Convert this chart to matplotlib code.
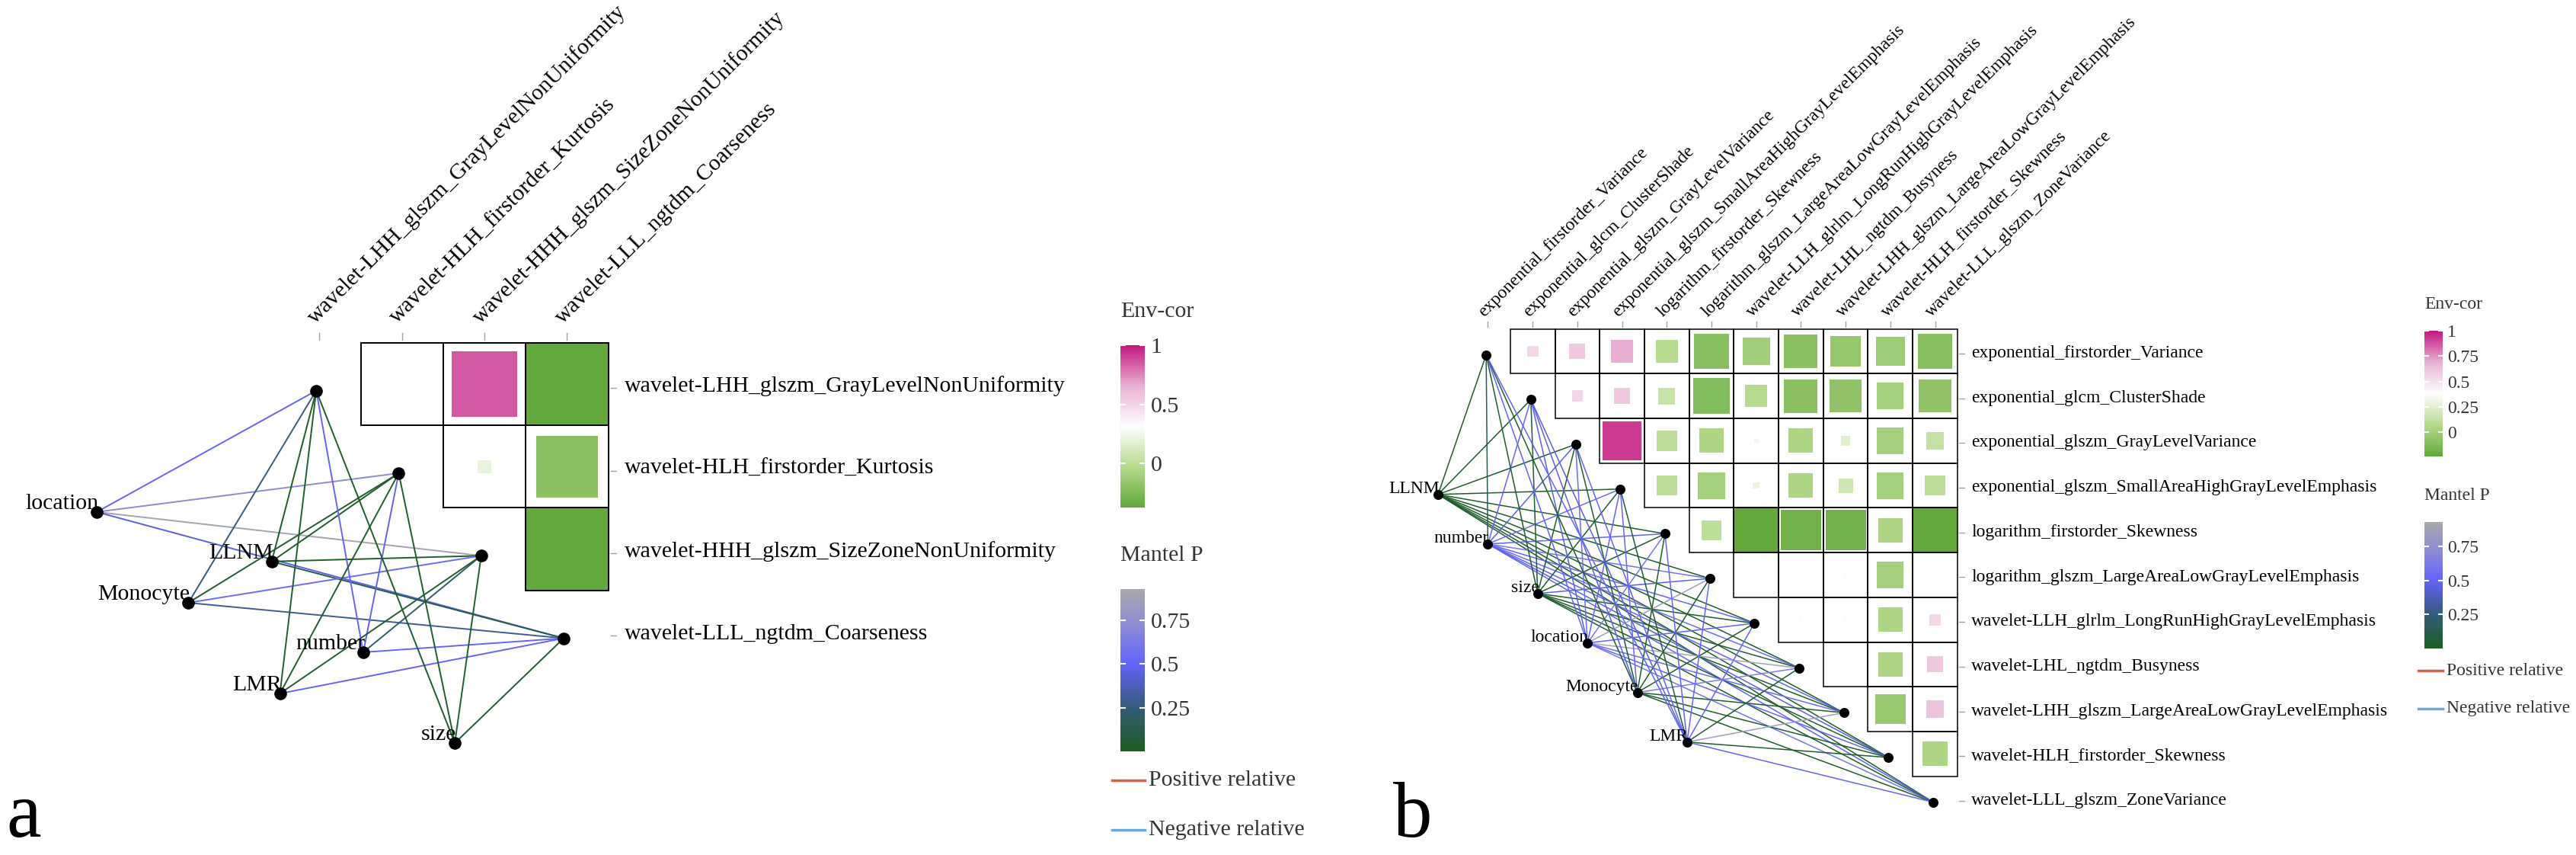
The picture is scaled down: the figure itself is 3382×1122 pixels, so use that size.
import numpy as np
import matplotlib
matplotlib.use("Agg")
import matplotlib.pyplot as plt
from matplotlib.colors import LinearSegmentedColormap, Normalize
from matplotlib.cm import ScalarMappable
from matplotlib.patches import Rectangle
from matplotlib.lines import Line2D

W, H = 3382, 1122
plt.rcParams['font.family'] = ['Liberation Serif', 'DejaVu Serif']

# ---------------- panel a data
a_feats = ["wavelet-LHH_glszm_GrayLevelNonUniformity",
           "wavelet-HLH_firstorder_Kurtosis",
           "wavelet-HHH_glszm_SizeZoneNonUniformity",
           "wavelet-LLL_ngtdm_Coarseness"]
# upper triangle correlations, row i holds columns i+1 .. n-1
a_r = [[0.31, 0.855, -0.37],
       [0.205, -0.20],
       [-0.37]]
a_env = ["location", "LLNM", "Monocyte", "number", "LMR", "size"]
# mantel p, env x feature
a_p = [[0.50, 0.72, 0.90, 0.45],
       [0.02, 0.03, 0.03, 0.12],
       [0.25, 0.04, 0.55, 0.30],
       [0.50, 0.48, 0.20, 0.50],
       [0.03, 0.04, 0.05, 0.50],
       [0.02, 0.03, 0.03, 0.04]]

# ---------------- panel b data
b_feats = ["exponential_firstorder_Variance",
           "exponential_glcm_ClusterShade",
           "exponential_glszm_GrayLevelVariance",
           "exponential_glszm_SmallAreaHighGrayLevelEmphasis",
           "logarithm_firstorder_Skewness",
           "logarithm_glszm_LargeAreaLowGrayLevelEmphasis",
           "wavelet-LLH_glrlm_LongRunHighGrayLevelEmphasis",
           "wavelet-LHL_ngtdm_Busyness",
           "wavelet-LHH_glszm_LargeAreaLowGrayLevelEmphasis",
           "wavelet-HLH_firstorder_Skewness",
           "wavelet-LLL_glszm_ZoneVariance"]
b_r = [[0.535, 0.60, 0.69, 0.07, -0.10, 0.00, -0.085, -0.05, -0.02, -0.10],
       [0.535, 0.60, 0.145, -0.12, 0.07, -0.085, -0.07, 0.01, -0.07],
       [0.925, 0.10, 0.04, 0.32, 0.04, 0.245, 0.01, 0.13],
       [0.10, 0.01, 0.29, 0.04, 0.18, 0.01, 0.10],
       [0.10, -0.24, -0.18, -0.18, 0.04, -0.24],
       [0.37, 0.38, 0.35, 0.01, 0.38],
       [0.41, 0.41, 0.04, 0.535],
       [0.40, 0.04, 0.60],
       [-0.04, 0.62],
       [0.04]]
b_env = ["LLNM", "number", "size", "location", "Monocyte", "LMR"]
b_p = [[0.02, 0.03, 0.02, 0.04, 0.03, 0.02, 0.03, 0.04, 0.02, 0.03, 0.05],
       [0.15, 0.50, 0.45, 0.55, 0.50, 0.60, 0.50, 0.55, 0.50, 0.45, 0.50],
       [0.03, 0.04, 0.02, 0.03, 0.05, 0.45, 0.03, 0.04, 0.02, 0.03, 0.04],
       [0.50, 0.45, 0.55, 0.50, 0.60, 0.85, 0.50, 0.90, 0.55, 0.50, 0.60],
       [0.05, 0.45, 0.04, 0.50, 0.03, 0.04, 0.05, 0.65, 0.04, 0.03, 0.03],
       [0.50, 0.45, 0.50, 0.05, 0.50, 0.50, 0.50, 0.05, 0.85, 0.04, 0.50]]

cor_cmap = LinearSegmentedColormap.from_list(
    "envcor", [(0, "#62a83a"), (0.25, "#b6da8e"), (0.5, "#ffffff"),
               (0.75, "#e8b0d4"), (1, "#c2177e")])
p_cmap = LinearSegmentedColormap.from_list(
    "mantel", [(0, "#1b5e20"), (0.27, "#355a7a"), (0.54, "#6464fa"),
               (0.8, "#8f8fd0"), (1, "#a8a8ac")])
p_norm = Normalize(0, 0.93)


def px_axes(fig, x, y, w, h):
    return fig.add_axes([x / W, 1 - (y + h) / H, w / W, h / H])


def panel_axes(fig, left, right, x0, y0, c):
    # x0, y0: pixel centre of cell (0, 0); c: cell size in pixels
    ax = px_axes(fig, left, 0, right - left, H)
    ax.set_xlim((left - x0) / c, (right - x0) / c)
    ax.set_ylim((H - y0) / c, -y0 / c)
    ax.axis("off")
    return ax


def draw_panel(ax, feats, r, env, env_xy, p, vmin, vmax, fs, grid_lw, edge_lw,
               node_s, col_off, row_gap, lab_off):
    n = len(feats)
    norm = Normalize(vmin, vmax)
    mid, half = (vmin + vmax) / 2, (vmax - vmin) / 2
    for i, row in enumerate(r):
        for k, v in enumerate(row):
            j = i + 1 + k
            s = min(1.0, abs(v - mid) / half)
            ax.add_patch(Rectangle((j - s / 2, i - s / 2), s, s,
                                   fc=cor_cmap(norm(v)), ec="none", zorder=2))
            ax.add_patch(Rectangle((j - 0.5, i - 0.5), 1, 1, fill=False,
                                   ec="black", lw=grid_lw, zorder=3))
    # column labels (top) and row labels (right)
    for j, name in enumerate(feats):
        ax.plot([j, j], [-0.5 - col_off[2], -0.5 - 0.04], color="#a0a0a0", lw=1)
        ax.text(j + col_off[0], -0.5 - col_off[1], name, rotation=45,
                rotation_mode="anchor", ha="left", va="center", fontsize=fs)
        ax.plot([n - 0.5 + 0.03, n - 0.5 + row_gap * 0.5], [j + 0.05, j + 0.05],
                color="#a0a0a0", lw=1)
        ax.text(n - 0.5 + row_gap, j, name, ha="left", va="center_baseline",
                fontsize=fs)
    # mantel links: env node -> diagonal anchor of each feature
    anchors = np.arange(n) + np.array([[-0.04], [0.08]])
    for e in range(len(env)):
        for j in range(n):
            ax.plot([env_xy[0][e], anchors[0][j]], [env_xy[1][e], anchors[1][j]],
                    color=p_cmap(p_norm(p[e][j])), lw=edge_lw, zorder=1,
                    solid_capstyle="round")
    ax.scatter(anchors[0], anchors[1], s=node_s, color="black", zorder=4)
    ax.scatter(env_xy[0], env_xy[1], s=node_s, color="black", zorder=4)
    for e, name in enumerate(env):
        ax.text(env_xy[0][e] + lab_off[0], env_xy[1][e] + lab_off[1], name,
                ha="right", va="center", fontsize=fs, zorder=5)


def legend(fig, x, w, cor_norm, cor_y, cor_h, cor_ticks, p_y, p_h, p_ticks,
           line_y, fs):
    for title, cmap, norm, ticks, y, h in [
            ("Env-cor", cor_cmap, cor_norm, cor_ticks, cor_y, cor_h),
            ("Mantel P", p_cmap, p_norm, p_ticks, p_y, p_h)]:
        cax = px_axes(fig, x, y, w, h)
        cb = fig.colorbar(ScalarMappable(norm=norm, cmap=cmap), cax=cax,
                          ticks=ticks)
        cb.outline.set_visible(False)
        cax.tick_params(length=0, labelsize=fs, pad=fs * 0.25, colors="#333333")
        cax.set_yticklabels([f"{t:g}" for t in ticks])
        for t in ticks:
            cax.plot([0, 0.2], [t, t], color="white", lw=1.5,
                     transform=cax.get_yaxis_transform())
            cax.plot([0.8, 1], [t, t], color="white", lw=1.5,
                     transform=cax.get_yaxis_transform())
        fig.text(x / W, 1 - (y - fs * 2.05) / H, title, ha="left", va="center",
                 fontsize=fs, color="#333333")
    for k, (lab, col) in enumerate([("Positive relative", "#d9603f"),
                                    ("Negative relative", "#6aa6d6")]):
        yy = 1 - line_y[k] / H
        fig.add_artist(Line2D([(x - w * 0.35) / W, (x + w) / W], [yy, yy],
                              color=col, lw=2.5))
        fig.text((x + w + 5) / W, yy, lab, ha="left", va="center",
                 fontsize=fs, color="#333333")


fig = plt.figure(figsize=(W / 100, H / 100), dpi=100)

# ---- panel a
ca = 108.3
ax_a = panel_axes(fig, 0, 1440, 419.5, 504, ca)
ka = np.arange(len(a_env))
a_xy = (-2.7 + (ka // 2) * 1.11 + (ka % 2) * 2.12,
        1.55 + (ka // 2) * 1.10 + (ka % 2) * 0.60)
draw_panel(ax_a, a_feats, a_r, a_env, a_xy, a_p, -0.37, 1.0, 21.5, 1.4, 1.4,
           120, (-0.1, 0.27, 0.12), 0.2, (0.02, -0.1))

# ---- panel b
cb_ = 58.7
ax_b = panel_axes(fig, 1790, 3150, 1953.5, 461, cb_)
kb = np.arange(len(b_env))
b_xy = (-1.116 + kb * 1.114, 3.2 + kb * 1.107)
draw_panel(ax_b, b_feats, b_r, b_env, b_xy, b_p, -0.24, 1.0, 17, 1.1, 1.1,
           70, (-0.15, 0.33, 0.17), 0.31, (0.03, -0.12))

legend(fig, 1471, 32, Normalize(-0.37, 1.0), 453, 213, [0, 0.5, 1],
       773, 213, [0.25, 0.5, 0.75], (1024, 1089), 21.5)
legend(fig, 3183, 24, Normalize(-0.24, 1.0), 434, 165, [0, 0.25, 0.5, 0.75, 1],
       685, 166, [0.25, 0.5, 0.75], (880, 930), 17)

fig.text(8 / W, 1 - 1120 / H, "a", fontsize=74, ha="left", va="bottom")
fig.text(1829 / W, 1 - 1120 / H, "b", fontsize=74, ha="left", va="bottom")

fig.savefig("out.png", dpi=100, facecolor="white")
